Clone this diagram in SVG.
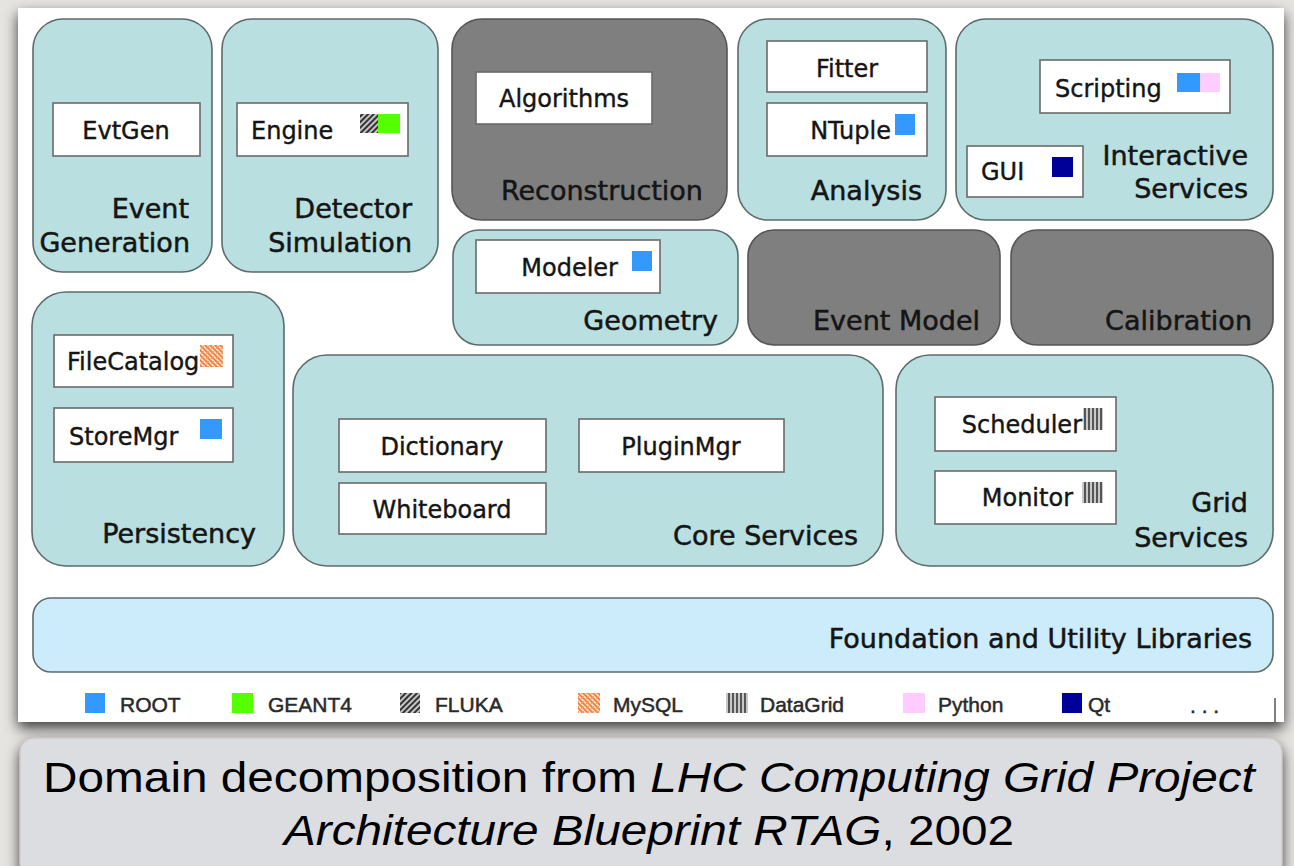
<svg xmlns="http://www.w3.org/2000/svg" width="1294" height="866" viewBox="0 0 1294 866">
<style>
.dom{fill:#b9dfe0;stroke:#5d6b6b;stroke-width:1.6}
.dark{fill:#7f7f7f;stroke:#555;stroke-width:1.6}
.comp{fill:#fff;stroke:#6a6a6a;stroke-width:1.6}
.lbl{font-family:"Comic Sans MS","DejaVu Sans",sans-serif;font-size:27px;fill:#151515;stroke:#151515;stroke-width:0.5;text-anchor:end}
.cl{font-family:"Comic Sans MS","DejaVu Sans",sans-serif;font-size:24px;fill:#151515;stroke:#151515;stroke-width:0.4}
.mid{text-anchor:middle}
.end{text-anchor:end}
.leg{font-family:"Liberation Sans",Arial,sans-serif;font-size:21px;fill:#2a2a2a;stroke:#2a2a2a;stroke-width:0.5}
.cap{font-family:"Liberation Sans",Arial,sans-serif;font-size:43px;fill:#000;text-anchor:middle}
</style>
<defs>
<filter id="sh" x="-5%" y="-5%" width="110%" height="120%">
<feDropShadow dx="0" dy="6" stdDeviation="7" flood-color="#000" flood-opacity="0.75"/>
</filter>
<pattern id="fluka" width="4" height="4" patternUnits="userSpaceOnUse" patternTransform="rotate(45)">
<rect width="4" height="4" fill="#c4c4c4"/><rect width="2" height="4" fill="#333"/>
</pattern>
<pattern id="mysql" width="5" height="5" patternUnits="userSpaceOnUse">
<rect width="5" height="5" fill="#fde0cc"/>
<path d="M0 0L5 5M-1 4L1 6M4 -1L6 1" stroke="#f27a35" stroke-width="1.6"/>
<path d="M0 5L5 0" stroke="#f79a60" stroke-width="0.9"/>
</pattern>
<pattern id="grid" width="4" height="4" patternUnits="userSpaceOnUse">
<rect width="4" height="4" fill="#c8c8c8"/><rect width="2" height="4" fill="#555"/>
</pattern>
</defs>
<rect width="1294" height="866" fill="#e6e4e1"/>
<rect x="18" y="8" width="1266" height="714" fill="#fff" filter="url(#sh)"/>
<rect x="20" y="738" width="1262" height="140" rx="14" fill="#dcdde0" stroke="#c4c4c4" filter="url(#sh)"/>

<g id="connectors"></g>

<g id="eventGeneration">
<rect class="dom" x="33" y="19" width="179" height="253" rx="30"/>
<rect class="comp" x="53" y="103" width="147" height="53"/>
<text class="cl mid" x="126" y="139">EvtGen</text>
<text class="lbl" x="189" y="218">Event</text>
<text class="lbl" x="190" y="252">Generation</text>
</g>

<g id="detectorSimulation">
<rect class="dom" x="222" y="19" width="216" height="253" rx="30"/>
<rect class="comp" x="237" y="103" width="171" height="53"/>
<text class="cl" x="251" y="139">Engine</text>
<rect x="360" y="114" width="18" height="19" fill="url(#fluka)"/>
<rect x="378" y="114" width="22" height="19" fill="#55ff00"/>
<text class="lbl" x="412" y="218">Detector</text>
<text class="lbl" x="412" y="252">Simulation</text>
</g>

<g id="reconstruction">
<rect class="dark" x="452" y="19" width="275" height="201" rx="30"/>
<rect class="comp" x="476" y="72" width="176" height="52"/>
<text class="cl mid" x="564" y="107">Algorithms</text>
<text class="lbl" x="703" y="200">Reconstruction</text>
</g>

<g id="analysis">
<rect class="dom" x="738" y="19" width="208" height="201" rx="30"/>
<rect class="comp" x="767" y="41" width="160" height="51"/>
<text class="cl mid" x="847" y="77">Fitter</text>
<rect class="comp" x="767" y="103" width="160" height="53"/>
<text class="cl end" x="891" y="139">NTuple</text>
<rect x="895" y="114" width="20" height="21" fill="#3399ff"/>
<text class="lbl" x="922" y="200">Analysis</text>
</g>

<g id="interactiveServices">
<rect class="dom" x="956" y="19" width="317" height="201" rx="30"/>
<rect class="comp" x="1040" y="60" width="190" height="53"/>
<text class="cl" x="1055" y="97">Scripting</text>
<rect x="1177" y="73" width="23" height="19" fill="#3399ff"/>
<rect x="1200" y="73" width="20" height="19" fill="#ffccff"/>
<rect class="comp" x="967" y="146" width="116" height="51"/>
<text class="cl" x="981" y="180">GUI</text>
<rect x="1052" y="157" width="21" height="20" fill="#000099"/>
<text class="lbl" x="1248" y="165">Interactive</text>
<text class="lbl" x="1248" y="198">Services</text>
</g>

<g id="geometry">
<rect class="dom" x="453" y="230" width="285" height="115" rx="26"/>
<rect class="comp" x="476" y="240" width="184" height="53"/>
<text class="cl end" x="618" y="276">Modeler</text>
<rect x="632" y="251" width="20" height="20" fill="#3399ff"/>
<text class="lbl" x="718" y="330">Geometry</text>
</g>

<g id="eventModel">
<rect class="dark" x="748" y="230" width="252" height="115" rx="26"/>
<text class="lbl" x="980" y="330">Event Model</text>
</g>

<g id="calibration">
<rect class="dark" x="1011" y="230" width="262" height="115" rx="26"/>
<text class="lbl" x="1252" y="330">Calibration</text>
</g>

<g id="persistency">
<rect class="dom" x="32" y="292" width="252" height="274" rx="34"/>
<rect class="comp" x="54" y="335" width="179" height="52"/>
<text class="cl" x="67" y="370">FileCatalog</text>
<rect x="200" y="345" width="23" height="22" fill="url(#mysql)"/>
<rect class="comp" x="54" y="408" width="179" height="54"/>
<text class="cl" x="69" y="445">StoreMgr</text>
<rect x="200" y="419" width="22" height="20" fill="#3399ff"/>
<text class="lbl" x="256" y="543">Persistency</text>
</g>

<g id="coreServices">
<rect class="dom" x="293" y="355" width="590" height="211" rx="34"/>
<rect class="comp" x="339" y="419" width="207" height="53"/>
<text class="cl mid" x="442" y="455">Dictionary</text>
<rect class="comp" x="339" y="483" width="207" height="51"/>
<text class="cl mid" x="442" y="518">Whiteboard</text>
<rect class="comp" x="579" y="419" width="205" height="53"/>
<text class="cl mid" x="681" y="455">PluginMgr</text>
<text class="lbl" x="858" y="545">Core Services</text>
</g>

<g id="gridServices">
<rect class="dom" x="896" y="355" width="377" height="211" rx="34"/>
<rect class="comp" x="935" y="397" width="181" height="54"/>
<text class="cl end" x="1082" y="433">Scheduler</text>
<rect x="1083" y="408" width="20" height="22" fill="url(#grid)"/>
<rect class="comp" x="935" y="471" width="181" height="53"/>
<text class="cl end" x="1073" y="506">Monitor</text>
<rect x="1082" y="482" width="21" height="21" fill="url(#grid)"/>
<text class="lbl" x="1248" y="512">Grid</text>
<text class="lbl" x="1248" y="547">Services</text>
</g>

<g id="foundation">
<rect x="33" y="598" width="1240" height="74" rx="18" fill="#cdecfb" stroke="#5d6b6b" stroke-width="1.6"/>
<text class="lbl" x="1252" y="648">Foundation and Utility Libraries</text>
</g>

<g id="legend">
<rect x="85" y="693" width="20" height="20" fill="#3399ff"/>
<text class="leg" x="120" y="712">ROOT</text>
<rect x="232" y="693" width="21" height="20" fill="#55ff00"/>
<text class="leg" x="268" y="712">GEANT4</text>
<rect x="400" y="693" width="20" height="20" fill="url(#fluka)"/>
<text class="leg" x="435" y="712">FLUKA</text>
<rect x="578" y="693" width="22" height="20" fill="url(#mysql)"/>
<text class="leg" x="613" y="712">MySQL</text>
<rect x="726" y="693" width="22" height="20" fill="url(#grid)"/>
<text class="leg" x="760" y="712">DataGrid</text>
<rect x="903" y="693" width="22" height="20" fill="#ffccff"/>
<text class="leg" x="938" y="712">Python</text>
<rect x="1062" y="693" width="20" height="20" fill="#000099"/>
<text class="leg" x="1088" y="712">Qt</text>
<text class="leg" x="1190" y="713">. . .</text>
<line x1="1275" y1="698" x2="1275" y2="722" stroke="#555" stroke-width="1.5"/>
</g>

<g id="caption">
<g transform="translate(649,0) scale(1.11,1)">
<text class="cap" x="0" y="792">Domain decomposition from <tspan font-style="italic">LHC Computing Grid Project</tspan></text>
<text class="cap" x="0" y="845"><tspan font-style="italic">Architecture Blueprint RTAG</tspan>, 2002</text>
</g>
</g>
</svg>
